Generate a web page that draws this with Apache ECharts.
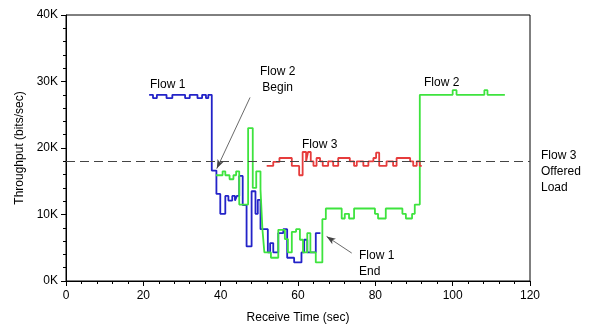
<!DOCTYPE html>
<html><head><meta charset="utf-8">
<script src="https://cdn.jsdelivr.net/npm/echarts/dist/echarts.min.js"></script>
<style>html,body{margin:0;padding:0;background:#fff}#c{width:603px;height:329px}</style>
</head><body><div id="c"></div>
<script>
// Flow 1 (blue): [time sec, throughput K bits/sec], step values
const flow1 = [
  [21.5,28],[22.5,27.5],[23.5,28],[26,27.5],[27.5,28],[30.8,27.5],[32,28],[34,27.5],[35.2,28],[36.2,27.5],[36.8,28],
  [37.7,16.6],[38.9,13.1],[39.9,10.1],[41.2,12.8],[42,12.1],[43,12.8],[43.7,12.1],[44.2,12.8],[44.8,15.8],[45.7,11.4],
  [46.7,5.2],[48.0,13.5],[49.0,10.1],[49.6,12.2],[50.3,7.8],[52.2,4.3],[52.8,5.7],[53.6,4.3],[54.9,7.2],[56.2,7.8],
  [57.2,3.5],[59.0,2.8],[60.9,4.3],[61.6,6.2],[62.4,4.3],[64.6,7.2],[65.8,7.2]
];
// Flow 2 (green)
const flow2 = [
  [38.8,15.9],[40.5,16.5],[41.2,15.9],[42.3,15.3],[43.3,15.9],[44.0,16.5],[44.8,11.5],[47.1,23.0],[48.3,14.0],
  [49.2,16.5],[50.3,13.8],[50.8,7.8],[51.3,4.3],[53.0,3.5],[54.9,7.7],[56.6,6.3],[57.4,4.3],[58.4,7.4],[59.5,7.8],
  [60.5,6.2],[61.3,4.3],[62.4,7.2],[63.2,4.3],[64.6,2.8],[66.3,9.3],[67.2,10.9],[71.3,9.4],[72.1,10.1],[73.2,9.4],
  [74.5,10.9],[79.9,10.1],[80.7,9.4],[82.7,10.9],[87.0,10.1],[87.9,9.4],[89.5,10.1],[90.2,11.5],[91.5,28],
  [100,28.7],[101,28],[108.2,28.7],[109,28],[113.5,28]
];
// Flow 3 (red)
const flow3 = [
  [51.9,17.3],[53.6,17.9],[55.2,18.5],[58.4,17.3],[60.3,15.9],[61.2,19.4],[62.1,18.0],[62.6,19.4],[63.3,18.0],
  [64.0,17.3],[64.8,18.5],[65.7,18.0],[66.4,17.3],[67.8,18.0],[69.1,17.3],[70.4,18.5],[73.4,18.0],[74.5,17.3],
  [75.2,18.0],[76.9,17.3],[78.2,18.0],[79.5,18.5],[80.2,19.3],[81.0,17.3],[82.9,18.0],[84.6,17.3],[85.5,18.5],
  [89.0,18.0],[89.8,17.3],[90.7,18.0],[91.5,17.3],[92.0,17.3]
];
const offeredLoad = 18;
const yTickLabels = ['0K','10K','20K','30K','40K'];
const flow2BeginArrow = [[47.6,27.6],[39.0,16.9]];
const flow1EndArrow = [[73.9,4.2],[67.4,6.7]];

const FONT = "'Liberation Sans', Arial, sans-serif";
const chart = echarts.init(document.getElementById('c'), null, {renderer:'canvas'});
const txt = (x, y, s, align) => ({type:'text', left:x, top:y, style:{text:s, font:'12px '+FONT, fill:'#000', textAlign: align||'left', lineHeight:16}});
const arrowLine = (a) => [{coord:a[0], symbol:'none'},{coord:a[1], symbol:'arrow', symbolSize:[5,9], lineStyle:{color:'#444',width:0.8,type:'solid'}}];

chart.setOption({
  animation:false,
  backgroundColor:'#fff',
  grid:{left:66, right:73, top:15, bottom:44, show:true, borderColor:'#000', borderWidth:1, containLabel:false},
  xAxis:{type:'value', min:0, max:120, interval:20,
    name:'Receive Time (sec)', nameLocation:'middle', nameGap:31,
    nameTextStyle:{color:'#000', fontSize:12, fontFamily:FONT},
    axisLine:{lineStyle:{color:'#000'}}, axisTick:{length:5, lineStyle:{color:'#000'}},
    minorTick:{show:true, splitNumber:5, length:3, lineStyle:{color:'#000'}},
    axisLabel:{color:'#000', fontSize:12, fontFamily:FONT, margin:9},
    splitLine:{show:false}},
  yAxis:{type:'value', min:0, max:40, interval:10,
    name:'Throughput (bits/sec)', nameLocation:'middle', nameGap:40,
    nameTextStyle:{color:'#000', fontSize:12, fontFamily:FONT},
    axisLine:{show:true, lineStyle:{color:'#000'}}, axisTick:{show:true, length:5, lineStyle:{color:'#000'}},
    minorTick:{show:true, splitNumber:5, length:3, lineStyle:{color:'#000'}},
    axisLabel:{color:'#000', fontSize:12, fontFamily:FONT, margin:8, formatter:(v)=>yTickLabels[Math.round(v/10)]},
    splitLine:{show:false}},
  series:[
    {type:'line', step:'end', data:flow1, showSymbol:false, lineStyle:{color:'#2323c8', width:1.8}, z:2},
    {type:'line', step:'end', data:flow2, showSymbol:false, lineStyle:{color:'#3ee33e', width:1.8}, z:3},
    {type:'line', step:'end', data:flow3, showSymbol:false, lineStyle:{color:'#e63c3c', width:1.8}, z:4,
      markLine:{silent:true, symbol:['none','none'], label:{show:false},
        data:[
          {yAxis:offeredLoad, lineStyle:{type:[9,5], color:'#444', width:1}},
          arrowLine(flow2BeginArrow),
          arrowLine(flow1EndArrow)
        ]}}
  ],
  graphic:[
    txt(150,77,'Flow 1'),
    txt(260,64,'Flow 2\nBegin','center'),
    txt(302,137,'Flow 3'),
    txt(424,75,'Flow 2'),
    txt(541,148,'Flow 3\nOffered\nLoad'),
    txt(359,248,'Flow 1\nEnd')
  ]
});
</script></body></html>
